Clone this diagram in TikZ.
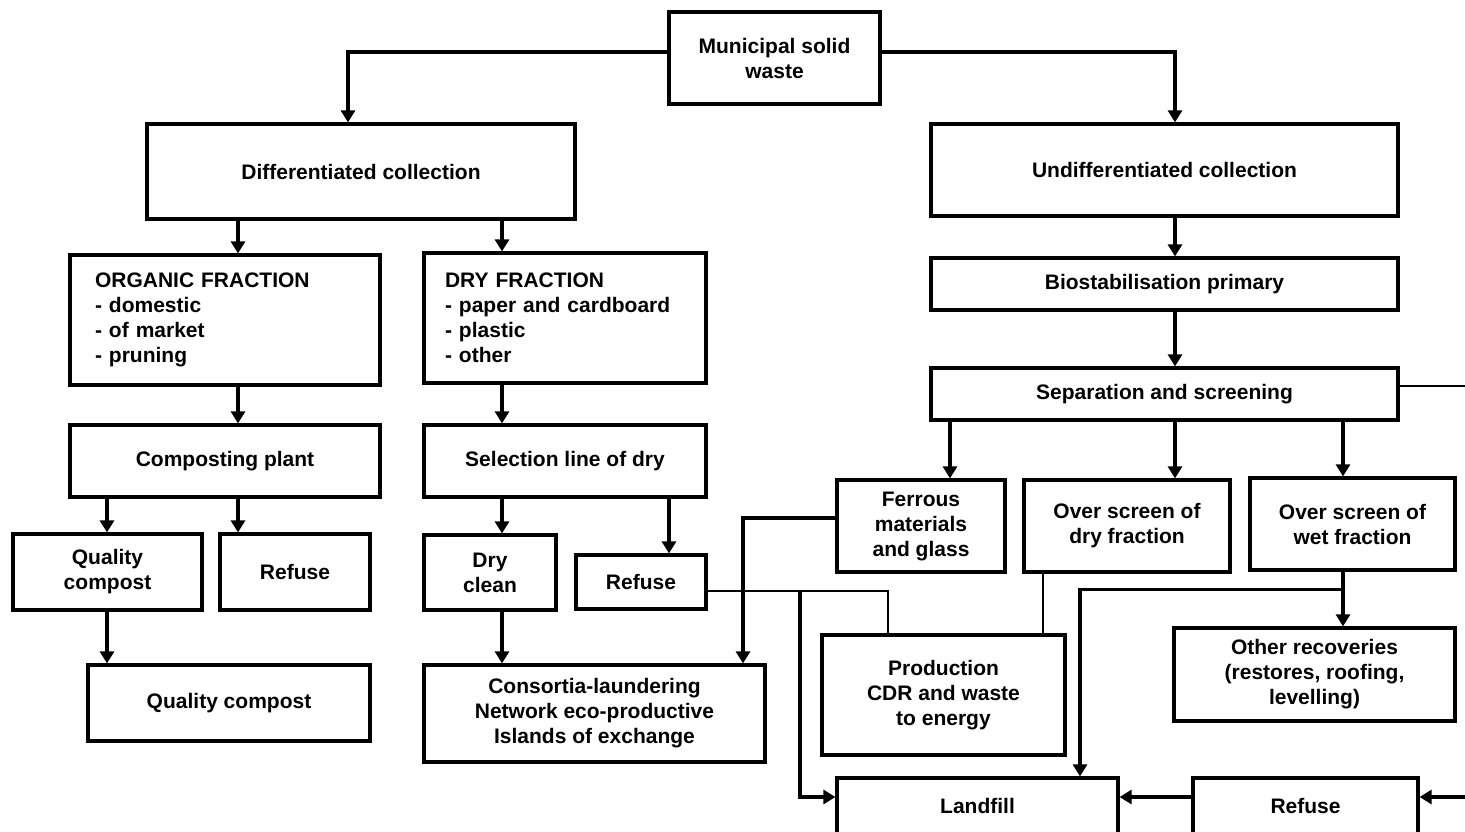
\documentclass[tikz,border=0pt]{standalone}
\usepackage{fontspec}
\setmainfont{Liberation Sans}
\usetikzlibrary{arrows.meta,calc}
\begin{document}
\begin{tikzpicture}[x=1pt,y=-1pt,
 box/.style={draw, line width=3.2pt, inner sep=0pt, align=center, font=\fontsize{21}{25}\selectfont\bfseries},
 arr/.style={line width=3.2pt, -{Triangle[width=14pt,length=12pt]}},
 ln/.style={line width=3.2pt},
 thn/.style={line width=2.3pt}]
\useasboundingbox (0,0) rectangle (1465,832);
% helper coordinates
\foreach \v in {107,238,348,502,669,743,800,888,950,1043,1080,1175,1343}{\coordinate (X\v) at (\v,0);}
\coordinate (Y797) at (0,797);
% nodes
\node[box, minimum width=211pt, minimum height=92pt] (msw) at (774.5,58) {Municipal solid\\waste};
\node[box, minimum width=428pt, minimum height=95pt] (diffc) at (361,171.5) {Differentiated collection};
\node[box, minimum width=467pt, minimum height=92pt] (undiff) at (1164.5,170) {Undifferentiated collection};
\node[box, minimum width=310pt, minimum height=130pt, text width=260pt, align=left] (org) at (225,320) {ORGANIC FRACTION\\- domestic\\- of market\\- pruning};
\node[box, minimum width=282pt, minimum height=130pt, text width=240pt, align=left] (dryf) at (565,318) {DRY FRACTION\\- paper and cardboard\\- plastic\\- other};
\node[box, minimum width=467pt, minimum height=52pt] (bio) at (1164.5,284) {Biostabilisation primary};
\node[box, minimum width=467pt, minimum height=52pt] (sep) at (1164.5,394) {Separation and screening};
\node[box, minimum width=310pt, minimum height=72pt] (comp) at (225,461) {Composting plant};
\node[box, minimum width=282pt, minimum height=72pt] (sel) at (565,461) {Selection line of dry};
\node[box, minimum width=189pt, minimum height=76pt] (qc1) at (107.5,572) {Quality\\compost};
\node[box, minimum width=150pt, minimum height=76pt] (ref1) at (295,572) {Refuse};
\node[box, minimum width=132pt, minimum height=75pt] (dryc) at (490,572.5) {Dry\\clean};
\node[box, minimum width=130pt, minimum height=54pt] (ref2) at (641,582) {Refuse};
\node[box, minimum width=282pt, minimum height=76pt] (qc2) at (229,703) {Quality compost};
\node[box, minimum width=341pt, minimum height=97pt] (cons) at (594.5,713.5) {Consortia-laundering\\Network eco-productive\\Islands of exchange};
\node[box, minimum width=168pt, minimum height=92pt] (ferr) at (921,526) {Ferrous\\materials\\and glass};
\node[box, minimum width=206pt, minimum height=92pt] (ovd) at (1127,526) {Over screen of\\dry fraction};
\node[box, minimum width=205pt, minimum height=92pt] (ovw) at (1352.5,524) {Over screen of\\wet fraction};
\node[box, minimum width=243pt, minimum height=120pt] (prod) at (943.5,695) {Production\\CDR and waste\\to energy};
\node[box, minimum width=281pt, minimum height=93pt] (other) at (1314.5,674.5) {Other recoveries\\(restores, roofing,\\levelling)};
\node[box, minimum width=281pt, minimum height=56pt] (land) at (977.5,806) {Landfill};
\node[box, minimum width=225pt, minimum height=56pt] (ref3) at (1305.5,806) {Refuse};
% connectors
\draw[arr] ($(msw.west)+(0,-6)$) -| (diffc.north -| X348);
\draw[arr] ($(msw.east)+(0,-6)$) -| (undiff.north -| X1175);
\draw[arr] (diffc.south -| X238) -- (org.north -| X238);
\draw[arr] (diffc.south -| X502) -- (dryf.north -| X502);
\draw[arr] (org.south -| X238) -- (comp.north -| X238);
\draw[arr] (dryf.south -| X502) -- (sel.north -| X502);
\draw[arr] (comp.south -| X107) -- (qc1.north -| X107);
\draw[arr] (comp.south -| X238) -- (ref1.north -| X238);
\draw[arr] (sel.south -| X502) -- (dryc.north -| X502);
\draw[arr] (sel.south -| X669) -- (ref2.north -| X669);
\draw[arr] (qc1.south -| X107) -- (qc2.north -| X107);
\draw[arr] (dryc.south -| X502) -- (cons.north -| X502);
\draw[arr] (undiff.south -| X1175) -- (bio.north -| X1175);
\draw[arr] (bio.south -| X1175) -- (sep.north -| X1175);
\draw[arr] (sep.south -| X950) -- (ferr.north -| X950);
\draw[arr] (sep.south -| X1175) -- (ovd.north -| X1175);
\draw[arr] (sep.south -| X1343) -- (ovw.north -| X1343);
\coordinate (edgeR1) at (1470,386);
\draw[thn] ($(sep.east)+(0,-8)$) -- (edgeR1);
\draw[thn,arr] ($(ferr.west)+(0,-8)$) -| (cons.north -| X743);
\coordinate (j1) at ($(ref2.east)+(0,9)$);
\draw[thn] (j1) -| (prod.north -| X888);
\draw[arr] (j1 -| X800) |- (land.west |- Y797);
\draw[thn] (ovd.south -| X1043) -- (prod.north -| X1043);
\draw[arr] (ovw.south -| X1343) -- (other.north -| X1343);
\coordinate (j2) at ($(ovw.south -| X1343)+(0,18)$);
\draw[thn,arr] (j2) -| (land.north -| X1080);
\draw[arr] (ref3.west |- Y797) -- (land.east |- Y797);
\coordinate (edgeR2) at (1470,797);
\draw[arr] (edgeR2) -- (ref3.east |- Y797);
\end{tikzpicture}
\end{document}
